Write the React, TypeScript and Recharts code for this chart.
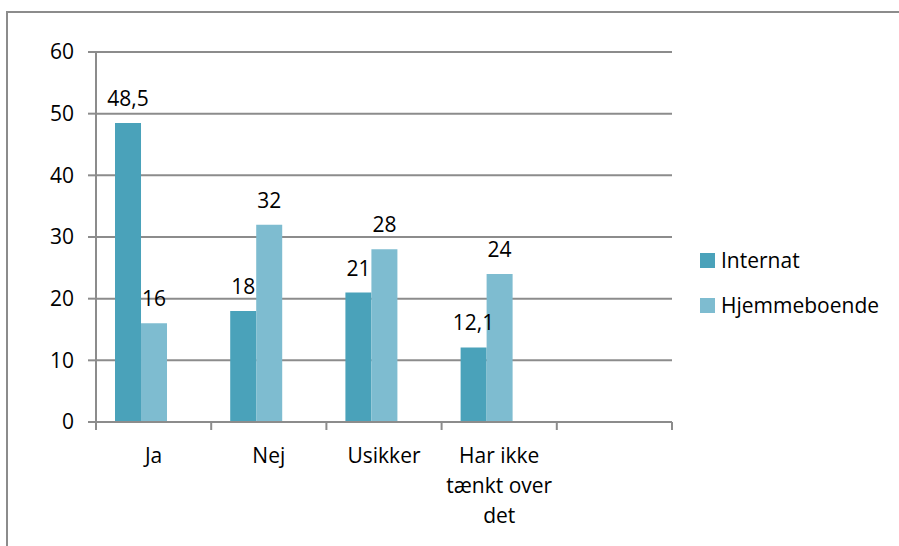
import { BarChart, Bar, XAxis, YAxis, CartesianGrid, Legend, LabelList } from 'recharts';

// \n marks where Excel wrapped the category label
const CATEGORIES = ['Ja', 'Nej', 'Usikker', 'Har ikke\ntænkt over\ndet', ''];
const INTERNAT = [48.5, 18, 21, 12.1, null];
const HJEMMEBOENDE = [16, 32, 28, 24, null];
const BLANK = [null, null, null, null, null]; // empty 3rd series, keeps Excel's bar spacing
const Y_TICKS = [0, 10, 20, 30, 40, 50, 60];
const SERIES_NAMES = ['Internat', 'Hjemmeboende'];

const FONT = "'Open Sans', sans-serif";
const GREY = '#8c8c8c';
const C_INTERNAT = '#4AA2BA';
const C_HJEMME = '#7EBCD0';

const data = CATEGORIES.map((name, i) => ({
  name,
  internat: INTERNAT[i],
  hjemmeboende: HJEMMEBOENDE[i],
  blank: BLANK[i],
}));

const fmt = (v: number | null) => (v == null ? '' : String(v).replace('.', ','));

// category label + tick marks on the band edges (Excel style "between categories")
const CategoryTick = ({ x, y, payload, index, visibleTicksCount }: any) => {
  const half = payload?.offset ?? 0;
  const lines = String(payload.value).split('\n');
  const last = index === (visibleTicksCount ?? CATEGORIES.length) - 1;
  return (
    <g>
      <line x1={x - half} x2={x - half} y1={y} y2={y + 8} stroke={GREY} strokeWidth={2} />
      {last && <line x1={x + half} x2={x + half} y1={y} y2={y + 8} stroke={GREY} strokeWidth={2} />}
      <text x={x} y={y + 41} textAnchor="middle" fill="#000" style={{ fontSize: 21, fontFamily: FONT }}>
        {lines.map((l, i) => (
          <tspan key={i} x={x} dy={i === 0 ? 0 : 30}>
            {l}
          </tspan>
        ))}
      </text>
    </g>
  );
};

// legend sorts alphabetically by default, so put entries back in series order
const LegendContent = ({ payload }: any) => {
  const items = SERIES_NAMES.map(n => (payload || []).find((p: any) => p.value === n)).filter(Boolean);
  return (
    <div style={{ fontFamily: FONT, fontSize: 21, color: '#000' }}>
      {items.map((p: any) => (
        <div key={p.value} style={{ display: 'flex', alignItems: 'center', height: 45 }}>
          <span style={{ display: 'inline-block', width: 15, height: 15, background: p.color, marginRight: 6 }} />
          <span>{p.value}</span>
        </div>
      ))}
    </div>
  );
};

export default function App() {
  return (
    <div
      style={{
        position: 'absolute',
        left: 0,
        top: 0,
        width: 899,
        height: 546,
        overflow: 'hidden',
        background: '#fff',
        fontFamily: FONT,
      }}
    >
      <div
        style={{
          position: 'absolute',
          left: 6,
          top: 11,
          width: 960,
          height: 600,
          border: `2px solid ${GREY}`,
        }}
      />
      <div style={{ position: 'absolute', left: 0, top: 0 }}>
        <BarChart
          width={899}
          height={546}
          data={data}
          margin={{ top: 52, right: 227, bottom: 123, left: 0 }}
          barCategoryGap="16.5%"
          barGap={0}
        >
          <CartesianGrid vertical={false} stroke={GREY} strokeWidth={2} />
          <XAxis
            dataKey="name"
            height={1}
            tickLine={false}
            tickSize={0}
            tickMargin={0}
            axisLine={{ stroke: GREY, strokeWidth: 2 }}
            tick={<CategoryTick />}
            interval={0}
          />
          <YAxis
            width={96}
            domain={[0, 60]}
            ticks={Y_TICKS}
            interval={0}
            tickSize={8}
            tickMargin={14}
            axisLine={{ stroke: GREY, strokeWidth: 2 }}
            tickLine={{ stroke: GREY, strokeWidth: 2 }}
            tick={{ fontSize: 21, fill: '#000', fontFamily: FONT }}
          />
          <Legend
            layout="vertical"
            align="center"
            verticalAlign="middle"
            content={<LegendContent />}
            wrapperStyle={{ left: 700, top: 237.5, width: 'auto', height: 'auto' }}
          />
          <Bar dataKey="internat" name="Internat" fill={C_INTERNAT} isAnimationActive={false}>
            <LabelList
              dataKey="internat"
              position="top"
              offset={17}
              formatter={fmt}
              fill="#000"
              style={{ fontSize: 21, fontFamily: FONT }}
            />
          </Bar>
          <Bar dataKey="hjemmeboende" name="Hjemmeboende" fill={C_HJEMME} isAnimationActive={false}>
            <LabelList
              dataKey="hjemmeboende"
              position="top"
              offset={17}
              formatter={fmt}
              fill="#000"
              style={{ fontSize: 21, fontFamily: FONT }}
            />
          </Bar>
          <Bar dataKey="blank" name="" fill="none" legendType="none" isAnimationActive={false} />
        </BarChart>
      </div>
    </div>
  );
}
